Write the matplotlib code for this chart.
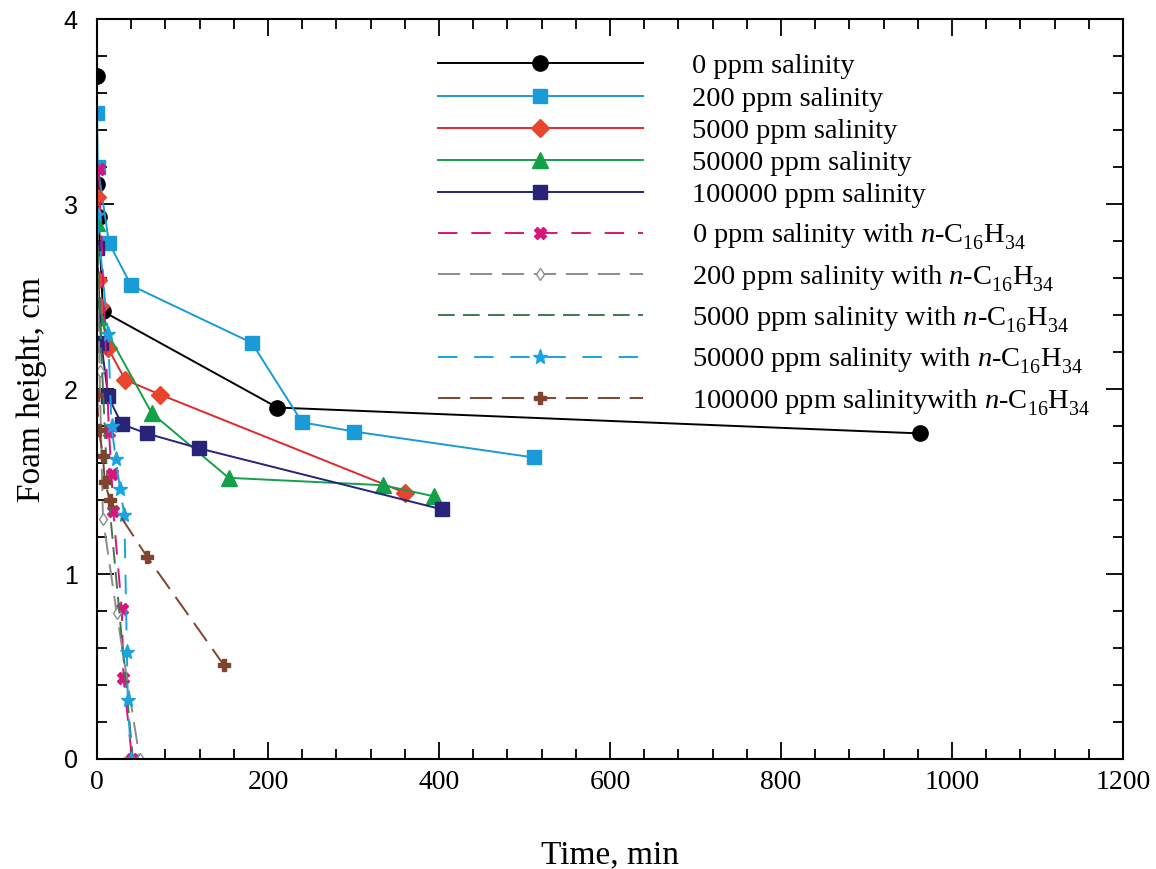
import matplotlib
matplotlib.use("Agg")
import matplotlib.pyplot as plt
from matplotlib.ticker import MultipleLocator

plt.rcParams['font.family'] = ['Liberation Serif', 'DejaVu Serif']
plt.rcParams['mathtext.fontset'] = 'custom'
plt.rcParams['mathtext.rm'] = 'Liberation Serif'
plt.rcParams['mathtext.it'] = 'Liberation Serif:italic'
plt.rcParams['lines.scale_dashes'] = False

# subscripts sit lower in the original figure
try:
    import matplotlib._mathtext as _mt
    _mt.FontConstantsBase.sub1 = 0.6
    _mt.FontConstantsBase.sub2 = 0.8
except Exception:
    pass

# foam height (cm) vs time (min)
t_0 = [0, 0, 2, 7, 211, 963]
h_0 = [3.69, 3.11, 2.93, 2.42, 1.90, 1.76]
t_200 = [0, 1, 14, 40, 181, 240, 301, 511]
h_200 = [3.49, 3.20, 2.79, 2.56, 2.25, 1.82, 1.77, 1.63]
t_5000 = [0, 1, 3, 13, 33, 74, 360]
h_5000 = [3.04, 2.59, 2.45, 2.22, 2.05, 1.97, 1.44]
t_50000 = [0, 2, 64, 154, 335, 394]
h_50000 = [2.90, 2.39, 1.87, 1.52, 1.48, 1.42]
t_100000 = [0, 5, 13, 29, 58, 119, 403]
h_100000 = [2.76, 2.25, 1.96, 1.81, 1.76, 1.68, 1.35]

t_0_oil = [2, 14, 17, 19, 29, 31, 41]
h_0_oil = [3.19, 1.77, 1.54, 1.34, 0.81, 0.44, 0.0]
t_200_oil = [0, 3, 7, 23, 50]
h_200_oil = [2.95, 2.10, 1.30, 0.79, 0.0]
t_5000_oil = [0, 5, 12, 20, 30, 42]
h_5000_oil = [2.90, 2.20, 1.50, 1.10, 0.60, 0.0]
t_50000_oil = [0, 13, 17, 22, 27, 32, 35, 36, 40]
h_50000_oil = [2.94, 2.30, 1.80, 1.62, 1.46, 1.32, 0.58, 0.32, 0.0]
t_100000_oil = [0, 2, 7, 9, 15, 59, 148]
h_100000_oil = [1.97, 1.78, 1.64, 1.50, 1.40, 1.09, 0.51]

oil = r' with $n$-C$_{16}$H$_{34}$'
labels = ['0 ppm salinity', '200 ppm salinity', '5000 ppm salinity',
          '50000 ppm salinity', '100000 ppm salinity',
          '0 ppm salinity' + oil, '200 ppm salinity' + oil,
          '5000 ppm salinity' + oil, '50000 ppm salinity' + oil,
          '100000 ppm salinitywith $n$-C$_{16}$H$_{34}$']

fig = plt.figure(figsize=(11.56, 8.69), dpi=100)
ax = fig.add_axes([0.0839, 0.1266, 0.8876, 0.8514])

lw = 1.4
lines = []
lines += ax.plot(t_0, h_0, color='black', lw=lw, marker='o', ms=11, label=labels[0])
lines += ax.plot(t_200, h_200, color='#1a9ad6', lw=lw, marker='s', ms=10, label=labels[1])
lines += ax.plot(t_5000, h_5000, color='#e0282e', lw=lw, marker='D', ms=9,
                 mfc='#e8452c', mec='#e8452c', label=labels[2])
lines += ax.plot(t_50000, h_50000, color='#14a04a', lw=lw, marker='^', ms=11, label=labels[3])
lines += ax.plot(t_100000, h_100000, color='#27247a', lw=lw, marker='s', ms=10, label=labels[4])

lines += ax.plot(t_0_oil, h_0_oil, color='#d6157d', lw=lw, marker='X', ms=8,
                 dashes=(14, 10), label=labels[5])
lines += ax.plot(t_200_oil, h_200_oil, color='#8c8c8c', lw=lw, marker='d', ms=6,
                 mfc='white', dashes=(16, 7), label=labels[6])
lines += ax.plot(t_5000_oil, h_5000_oil, color='#3c7a4e', lw=lw, dashes=(12, 6),
                 label=labels[7])
lines += ax.plot(t_50000_oil, h_50000_oil, color='#1aa3e0', lw=lw, marker='*', ms=11,
                 dashes=(14, 12), label=labels[8])
lines += ax.plot(t_100000_oil, h_100000_oil, color='#7e4430', lw=lw, marker='P', ms=8,
                 dashes=(16, 7), label=labels[9])

ax.set_xlim(0, 1200)
ax.set_ylim(0, 4)
ax.xaxis.set_major_locator(MultipleLocator(200))
ax.xaxis.set_minor_locator(MultipleLocator(40))
ax.yaxis.set_major_locator(MultipleLocator(1))
ax.yaxis.set_minor_locator(MultipleLocator(0.2))
ax.tick_params(which='both', direction='in', top=True, right=True, width=1.3)
ax.tick_params(which='major', length=12)
ax.tick_params(which='minor', length=7)
ax.tick_params(axis='x', labelsize=20, pad=8)
ax.tick_params(axis='y', labelsize=18, pad=14)
for lab in ax.get_yticklabels():
    lab.set_fontfamily('Liberation Sans')
for s in ax.spines.values():
    s.set_linewidth(1.5)

ax.set_xlabel('Time, min', fontsize=24, labelpad=32)
ax.set_ylabel('Foam height, cm', fontsize=24, labelpad=12)

# two stacked legends: the rows with subscripts are spaced wider in the original
leg_kw = dict(loc='upper left', frameon=False, fontsize=20.5, handlelength=7.2,
              handletextpad=1.75, numpoints=1, borderpad=0, borderaxespad=0)
leg1 = ax.legend(handles=lines[:5], bbox_to_anchor=(0.332, 0.9536),
                 labelspacing=0.22, **leg_kw)
ax.add_artist(leg1)
ax.legend(handles=lines[5:], bbox_to_anchor=(0.332, 0.7262),
          labelspacing=0.37, **leg_kw)

fig.savefig('out.png', dpi=100)
